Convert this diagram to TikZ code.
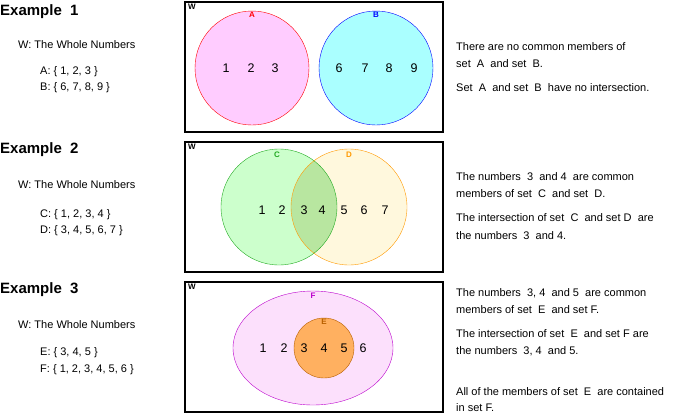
\documentclass[tikz,border=0pt]{standalone}
\usepackage{fontspec}
\setmainfont{Liberation Sans}
\definecolor{apink}{HTML}{FFCCFF}
\definecolor{bcyan}{HTML}{AAFFFF}
\definecolor{cgreen}{HTML}{CCFFCC}
\definecolor{dyellow}{HTML}{FFF8DD}
\definecolor{cdint}{HTML}{B8E6A0}
\definecolor{cline}{HTML}{22AA22}
\definecolor{dline}{HTML}{FF9900}
\definecolor{fpink}{HTML}{FCE0FC}
\definecolor{fline}{HTML}{BB00CC}
\definecolor{eorange}{HTML}{FFB060}
\definecolor{eline}{HTML}{B86000}
\begin{document}
\begin{tikzpicture}[x=1pt,y=-1pt,
  txt/.style={anchor=west,inner sep=0pt,font=\fontsize{11}{12}\selectfont},
  ttl/.style={anchor=west,inner sep=0pt,font=\fontsize{15}{17}\selectfont\bfseries},
  num/.style={inner sep=0pt,font=\fontsize{12.5}{14}\selectfont},
  lbl/.style={inner sep=0pt,font=\fontsize{8}{9}\selectfont\bfseries},
  wbox/.style={draw,line width=1.5pt}]
\useasboundingbox (0,0) rectangle (695,415);
% Example 1
\node[ttl] (t1) at (0,12) {Example\ \ 1};
\node[txt] (w1) at (18,45) {W: The Whole Numbers};
\node[txt] (a1) at (40,72) {A: \{ 1, 2, 3 \}};
\node[txt] (b1) at (40,88) {B: \{ 6, 7, 8, 9 \}};
\draw[wbox] (185,2) rectangle (443,132);
\node[lbl,anchor=north west] (W1) at (188,4) {W};
\draw[red,fill=apink] (252,68) circle (57);
\draw[blue,fill=bcyan] (376,68) circle (57);
\node[lbl,red] (A) at (252,15) {A};
\node[lbl,blue] (B) at (376,15) {B};
\foreach \x/\n in {226/1,251/2,275/3,339/6,365/7,389/8,414/9}
  \node[num] (n1\n) at (\x,68) {\n};
\node[txt] (r11) at (456,47) {There are no common members of};
\node[txt] (r12) at (456,64) {set\ \ A\ \ and set\ \ B.};
\node[txt] (r13) at (456,88) {Set\ \ A\ \ and set\ \ B\ \ have no intersection.};
% Example 2
\node[ttl] (t2) at (0,150) {Example\ \ 2};
\node[txt] (w2) at (18,185) {W: The Whole Numbers};
\node[txt] (c2) at (40,215) {C: \{ 1, 2, 3, 4 \}};
\node[txt] (d2) at (40,231) {D: \{ 3, 4, 5, 6, 7 \}};
\draw[wbox] (185,142) rectangle (443,272);
\node[lbl,anchor=north west] (W2) at (188,144) {W};
\fill[cgreen] (279,207) circle (58);
\fill[dyellow] (349,207) circle (58);
\begin{scope}
  \clip (279,207) circle (58);
  \fill[cdint] (349,207) circle (58);
\end{scope}
\draw[cline] (279,207) circle (58);
\draw[dline] (349,207) circle (58);
\node[lbl,cline] (C) at (277,155) {C};
\node[lbl,dline] (D) at (349,155) {D};
\foreach \x/\n in {262/1,282/2,304/3,322/4,344/5,364/6,385/7}
  \node[num] (n2\n) at (\x,210) {\n};
\node[txt] (r21) at (456,177) {The numbers\ \ 3\ \ and\ 4\ \ are common};
\node[txt] (r22) at (456,194) {members of set\ \ C\ \ and set\ \ D.};
\node[txt] (r23) at (456,218) {The intersection of set\ \ C\ \ and set\ D\ \ are};
\node[txt] (r24) at (456,236) {the numbers\ \ 3\ \ and 4.};
% Example 3
\node[ttl] (t3) at (0,290) {Example\ \ 3};
\node[txt] (w3) at (18,325) {W: The Whole Numbers};
\node[txt] (e3) at (40,353) {E: \{ 3, 4, 5 \}};
\node[txt] (f3) at (40,370) {F: \{ 1, 2, 3, 4, 5, 6 \}};
\draw[wbox] (185,282) rectangle (443,412);
\node[lbl,anchor=north west] (W3) at (188,284) {W};
\draw[fline,fill=fpink] (313,348) ellipse (80 and 57);
\draw[eline,fill=eorange] (324,348) circle (30);
\node[lbl,fline] (F) at (313,296) {F};
\node[lbl,eline] (E) at (324,322) {E};
\foreach \x/\n in {263/1,284/2,304/3,324/4,344/5,363/6}
  \node[num] (n3\n) at (\x,348) {\n};
\node[txt] (r31) at (456,293) {The numbers\ \ 3,\ 4\ \ and 5\ \ are common};
\node[txt] (r32) at (456,310) {members of set\ \ E\ \ and set F.};
\node[txt] (r33) at (456,334) {The intersection of set\ \ E\ \ and set F\ are};
\node[txt] (r34) at (456,351) {the numbers\ \ 3,\ 4\ \ and 5.};
\node[txt] (r35) at (456,392) {All of the members of set\ \ E\ \ are contained};
\node[txt] (r36) at (456,408) {in set F.};
\end{tikzpicture}
\end{document}
